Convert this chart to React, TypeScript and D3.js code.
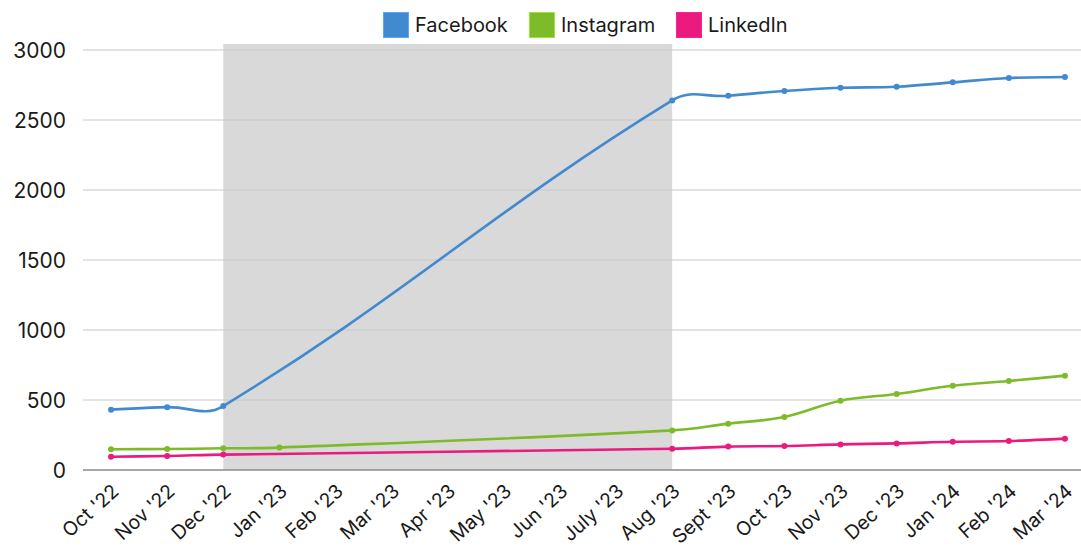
import React from "react";
import * as d3 from "d3";

const categories = ["Oct '22", "Nov '22", "Dec '22", "Jan '23", "Feb '23", "Mar '23", "Apr '23", "May '23", "Jun '23", "July '23", "Aug '23", "Sept '23", "Oct '23", "Nov '23", "Dec '23", "Jan '24", "Feb '24", "Mar '24"];
const facebook: (number | null)[] = [431, 449, 457, null, null, null, null, null, null, null, 2640, 2673, 2707, 2730, 2738, 2769, 2800, 2807];
const instagram: (number | null)[] = [148, 150, 155, 160, null, null, null, null, null, null, 283, 331, 379, 495, 543, 602, 636, 674];
const linkedin: (number | null)[] = [95, 100, 110, null, null, null, null, null, null, null, 152, 167, 171, 183, 190, 202, 207, 224];
const yTicks = [0, 500, 1000, 1500, 2000, 2500, 3000];
const shadeRange = ["Dec '22", "Aug '23"];
const seriesNames = ["Facebook", "Instagram", "LinkedIn"];
const seriesColors = ["#418ad0", "#7dbb2a", "#ea1a7e"];
const seriesData = [facebook, instagram, linkedin];

const W = 1081, H = 546;
const FONT = "Inter, 'Noto Sans', sans-serif";

function splinePath(pts: [number, number][], t = 0.4): string {
  const n = pts.length;
  const cps = pts.map((p, i) => {
    const prev = pts[i - 1] || p;
    const next = pts[i + 1] || p;
    const d01 = Math.hypot(p[0] - prev[0], p[1] - prev[1]);
    const d12 = Math.hypot(next[0] - p[0], next[1] - p[1]);
    const s01 = d01 / (d01 + d12 || 1);
    const s12 = d12 / (d01 + d12 || 1);
    const fa = t * s01, fb = t * s12;
    return {
      prev: [p[0] - fa * (next[0] - prev[0]), p[1] - fa * (next[1] - prev[1])],
      next: [p[0] + fb * (next[0] - prev[0]), p[1] + fb * (next[1] - prev[1])],
    };
  });
  let d = `M${pts[0][0]},${pts[0][1]}`;
  for (let i = 0; i < n - 1; i++) {
    const a = cps[i].next, b = cps[i + 1].prev, p = pts[i + 1];
    d += `C${a[0]},${a[1]},${b[0]},${b[1]},${p[0]},${p[1]}`;
  }
  return d;
}

export default function App() {
  const x = d3.scaleBand<string>().domain(categories).range([83, 1093]);
  const xc = (c: string) => (x(c) as number) + x.bandwidth() / 2;
  const y = d3.scaleLinear().domain([0, 3000]).range([470, 50]);
  const gridX0 = 83;

  return (
    <svg width={W} height={H} style={{ position: "absolute", left: 0, top: 0, background: "#fff" }} fontFamily={FONT}>
      <rect x={xc(shadeRange[0])} y={y(3000) - 6} width={xc(shadeRange[1]) - xc(shadeRange[0])} height={y(0) - y(3000) + 6} fill="#d9d9d9" />
      {yTicks.map((t) => (
        <g key={t}>
          <line x1={gridX0} x2={W} y1={y(t)} y2={y(t)} stroke={t === 0 ? "#8a8a8a" : "#c8c8c8"} strokeWidth={t === 0 ? 1.5 : 1} />
          <text x={66} y={y(t)} dy="0.36em" textAnchor="end" fontSize={21} fill="#1a1a1a">{t}</text>
        </g>
      ))}
      {categories.map((c) => (
        <text key={c} transform={`translate(${xc(c) + 9},${493}) rotate(-42)`} textAnchor="end" fontSize={19.5} fill="#1a1a1a">{c}</text>
      ))}
      {seriesData.map((arr, si) => {
        const pts: [number, number][] = [];
        arr.forEach((v, i) => { if (v != null) pts.push([xc(categories[i]), y(v)]); });
        return (
          <g key={si}>
            <path d={splinePath(pts)} fill="none" stroke={seriesColors[si]} strokeWidth={2.6} />
            {pts.map((p, i) => <circle key={i} cx={p[0]} cy={p[1]} r={3} fill={seriesColors[si]} />)}
          </g>
        );
      })}
      {seriesNames.map((s, i) => {
        const lx = [383, 529, 676][i];
        return (
          <g key={s}>
            <rect x={lx + 0.5} y={12.5} width={25} height={25} fill={seriesColors[i]} stroke={d3.color(seriesColors[i])!.brighter(0.6).formatHex()} strokeWidth={1} />
            <text x={lx + 32} y={25} dy="0.35em" fontSize={20} fill="#1a1a1a">{s}</text>
          </g>
        );
      })}
    </svg>
  );
}
